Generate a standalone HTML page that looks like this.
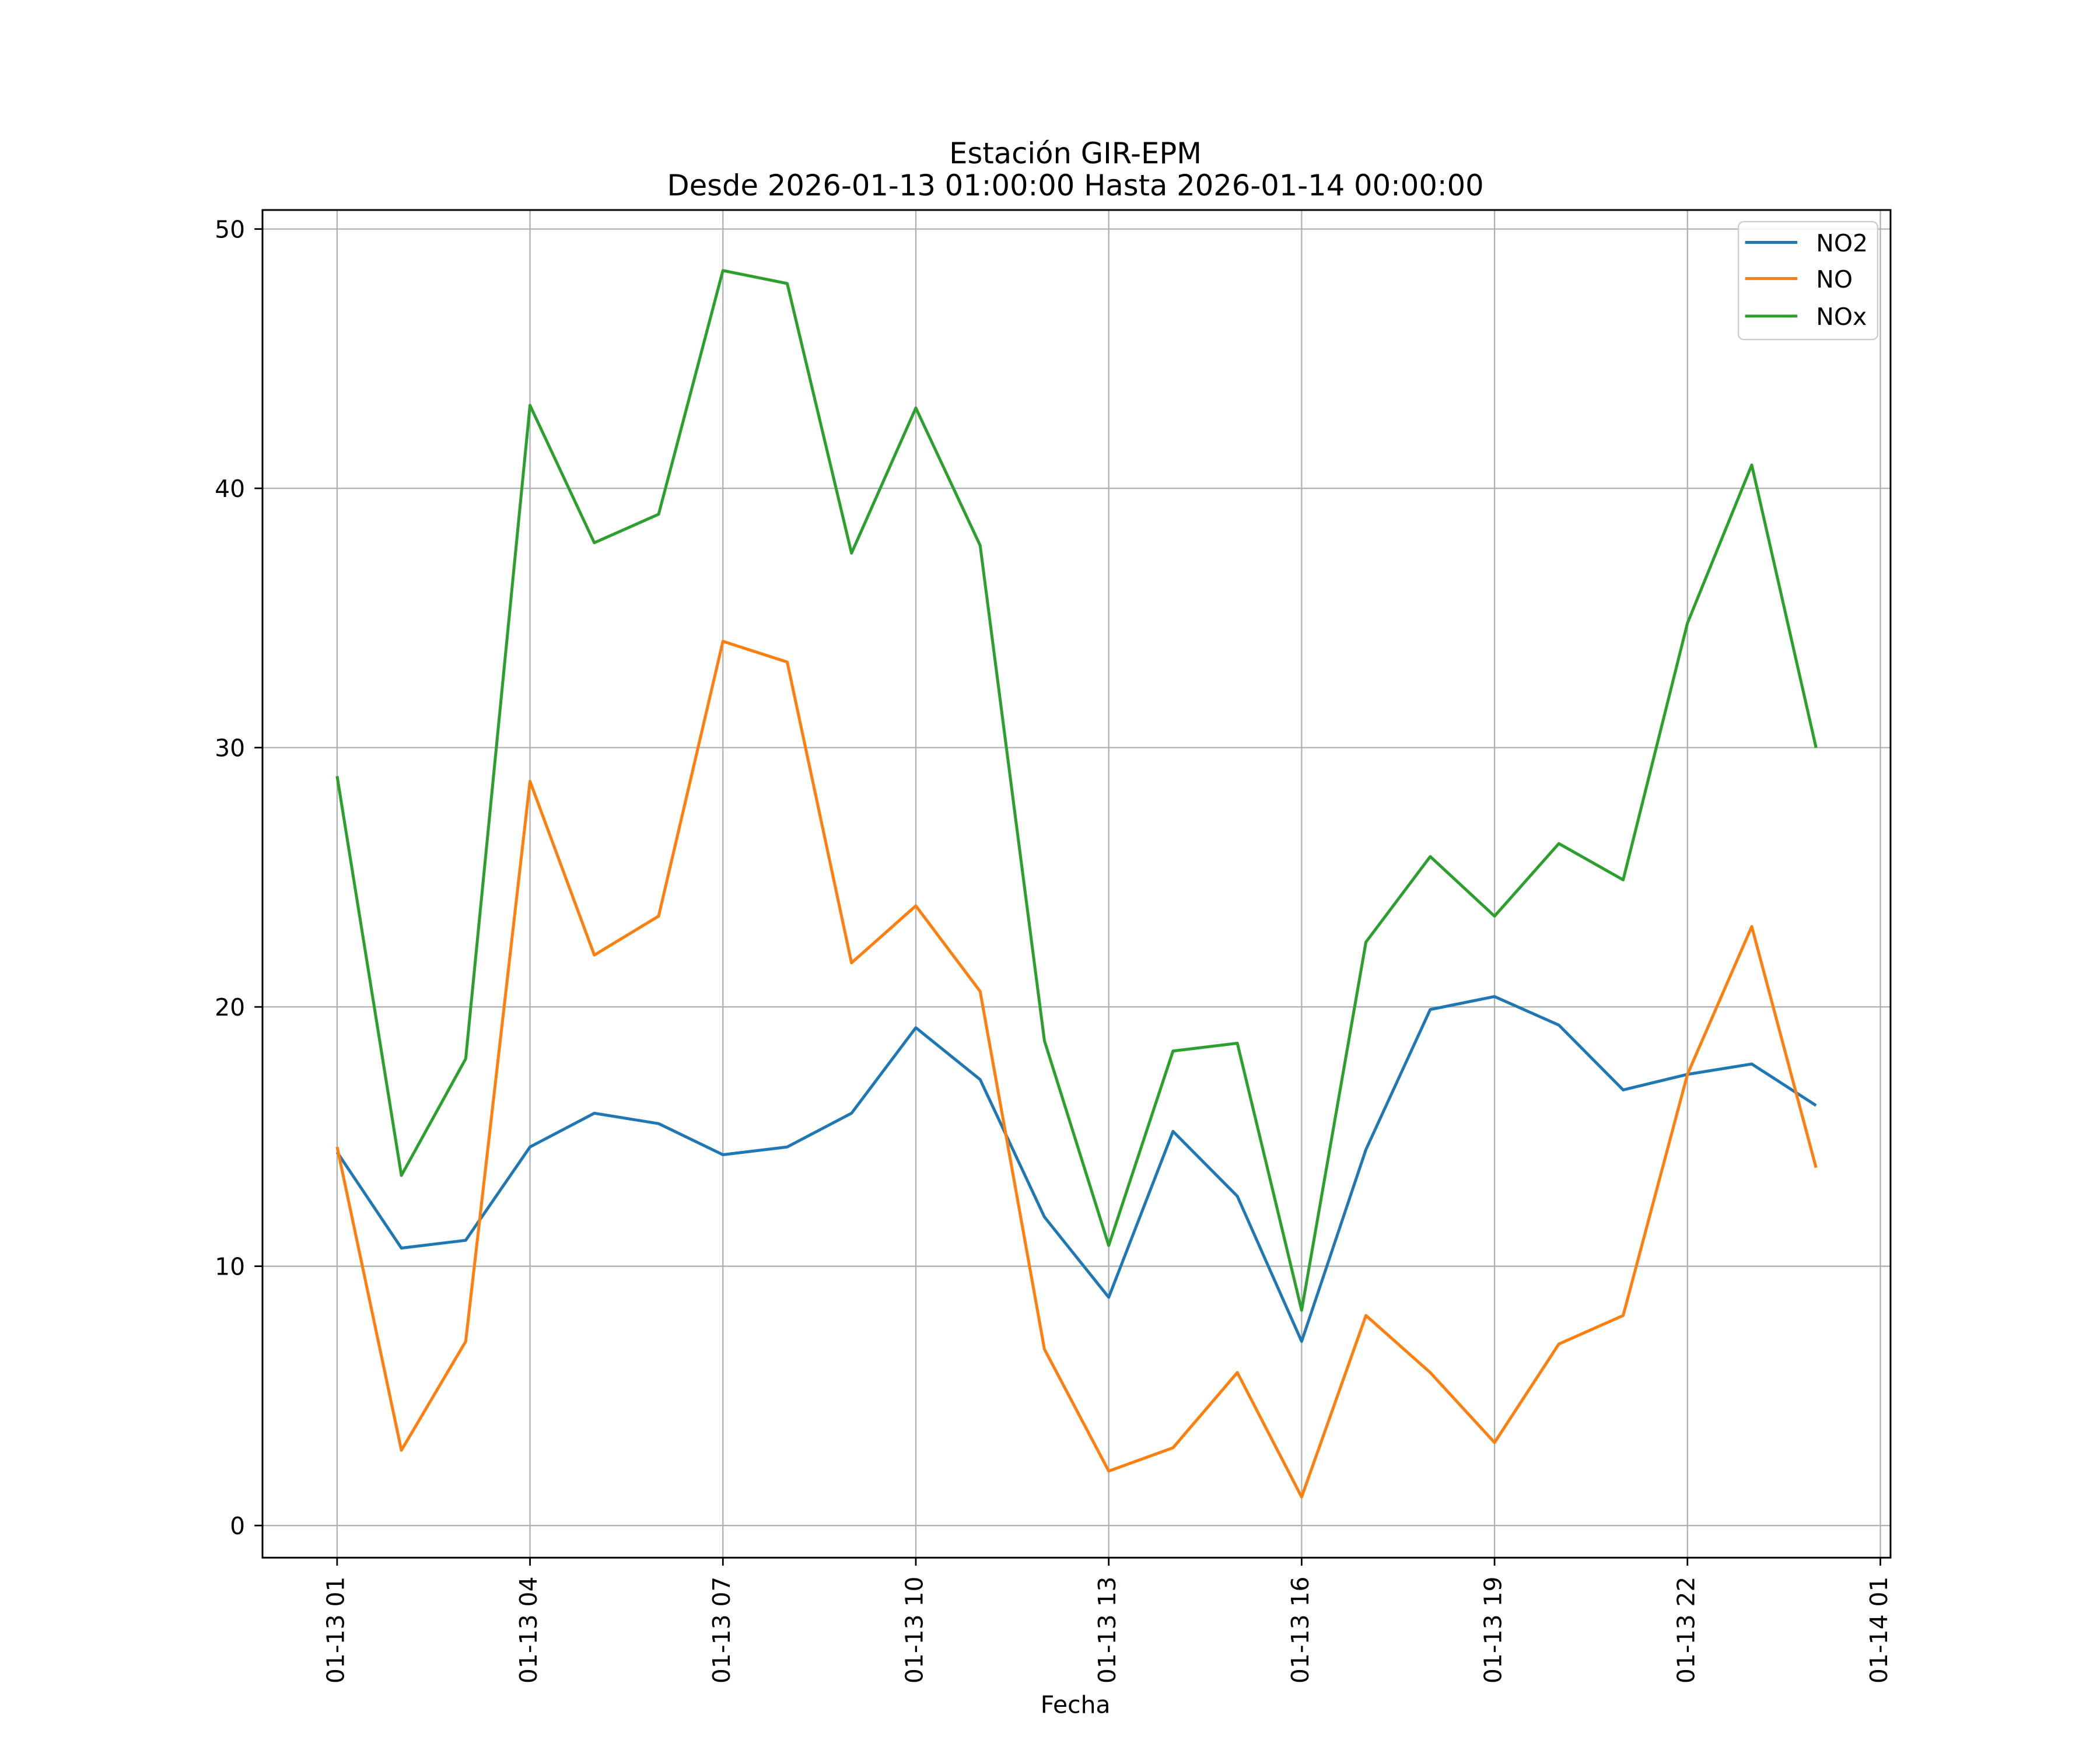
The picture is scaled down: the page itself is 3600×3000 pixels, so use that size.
<!DOCTYPE html>
<html><head><meta charset="utf-8"><style>body{margin:0;background:#fff}svg{display:block}text{font-family:"DejaVu Sans","Liberation Sans",sans-serif}</style></head>
<body>
<svg id="chart" width="3600" height="3000" viewBox="0 0 1568 1306.6" preserveAspectRatio="none" xmlns="http://www.w3.org/2000/svg">
<rect width="1568" height="1306.6" fill="#fff"/>
<text x="803" y="122" font-size="21.6" text-anchor="middle">Estación GIR-EPM</text>
<text x="803" y="146" font-size="21.6" text-anchor="middle">Desde 2026-01-13 01:00:00 Hasta 2026-01-14 00:00:00</text>
<g id="grid"></g><g id="series"></g><g id="axes"></g>
<text x="803" y="1279" font-size="17.8" text-anchor="middle">Fecha</text>
<g>
<rect x="1298" y="165.5" width="104" height="88" rx="4" fill="#fff" fill-opacity="0.8" stroke="#ccc" stroke-width="1"/>
<line x1="1303" y1="181" x2="1342" y2="181" stroke="#1f77b4" stroke-width="2.2"/><text x="1356" y="187.7" font-size="17.8">NO2</text>
<line x1="1303" y1="208" x2="1342" y2="208" stroke="#ff7f0e" stroke-width="2.2"/><text x="1356" y="214.7" font-size="17.8">NO</text>
<line x1="1303" y1="236" x2="1342" y2="236" stroke="#2ca02c" stroke-width="2.2"/><text x="1356" y="242.7" font-size="17.8">NOx</text>
</g>
</svg>
<script>
const hours = [1,2,3,4,5,6,7,8,9,10,11,12,13,14,15,16,17,18,19,20,21,22,23,24];
const no2 = [14.4,10.7,11.0,14.6,15.9,15.5,14.3,14.6,15.9,19.2,17.2,11.9,8.8,15.2,12.7,7.1,14.5,19.9,20.4,19.3,16.8,17.4,17.8,16.2];
const no = [14.6,2.9,7.1,28.7,22.0,23.5,34.1,33.3,21.7,23.9,20.6,6.8,2.1,3.0,5.9,1.1,8.1,5.9,3.2,7.0,8.1,17.4,23.1,13.8];
const nox = [28.9,13.5,18.0,43.2,37.9,39.0,48.4,47.9,37.5,43.1,37.8,18.7,10.8,18.3,18.6,8.3,22.5,25.8,23.5,26.3,24.9,34.8,40.9,30.0];
const yTicks = [0,10,20,30,40,50];
const xTicks = [1,4,7,10,13,16,19,22,25];
const xTickLabels = ["01-13 01","01-13 04","01-13 07","01-13 10","01-13 13","01-13 16","01-13 19","01-13 22","01-14 01"];
const L=196,R=1411.6,T=156.8,B=1163;
const xs=h=>251.7+(h-1)*(1404-251.7)/24;
const ys=v=>1139-v*(1139-171)/50;
const NS="http://www.w3.org/2000/svg";
function mk(tag,attrs,parent){const e=document.createElementNS(NS,tag);for(const k in attrs)e.setAttribute(k,attrs[k]);parent.appendChild(e);return e;}
const grid=document.getElementById('grid'),axes=document.getElementById('axes'),series=document.getElementById('series');
yTicks.forEach(v=>{const y=ys(v);
 const g=mk('line',{x1:L,x2:R,y1:y,y2:y,stroke:'#b0b0b0','stroke-width':1},grid);
 
 
 mk('line',{x1:L-6,x2:L,y1:y,y2:y,stroke:'#000','stroke-width':1.2},axes);
 const t=mk('text',{x:183,y:y+6.5,'font-size':17.8,'text-anchor':'end'},axes);t.textContent=v;
 
 
});
xTicks.forEach((h,i)=>{const x=xs(h);
 const g=mk('line',{x1:x,x2:x,y1:T,y2:B,stroke:'#b0b0b0','stroke-width':1},grid);
 
 
 mk('line',{x1:x,x2:x,y1:B,y2:B+6,stroke:'#000','stroke-width':1.2},axes);
 const t=mk('text',{x:0,y:0,'font-size':17.8,'text-anchor':'end',transform:`translate(${x+5},${B+14}) rotate(-90)`},axes);t.textContent=xTickLabels[i];
 
 
});
const fr=mk('rect',{x:L,y:T,width:R-L,height:B-T,fill:'none',stroke:'#000','stroke-width':1.3},axes);


[[no2,'#1f77b4','line-no2'],[no,'#ff7f0e','line-no'],[nox,'#2ca02c','line-nox']].forEach(([d,c,n])=>{
 const p=mk('polyline',{points:d.map((v,i)=>xs(hours[i])+','+ys(v)).join(' '),fill:'none',stroke:c,'stroke-width':2.2,'stroke-linejoin':'round'},series);
 
 
});
</script>
</body></html>
